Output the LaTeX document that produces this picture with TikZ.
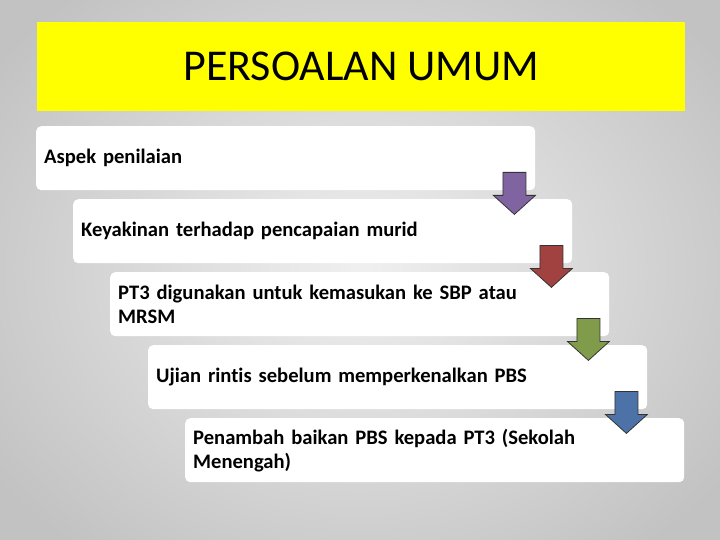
\documentclass[tikz,border=0pt]{standalone}
\usepackage{fontspec}
\setmainfont[Ligatures=NoCommon]{Carlito}
\usetikzlibrary{calc}
\definecolor{titleyellow}{RGB}{255,255,0}
\definecolor{arrpurple}{RGB}{128,100,162}
\definecolor{arrred}{RGB}{162,66,64}
\definecolor{arrgreen}{RGB}{128,156,74}
\definecolor{arrblue}{RGB}{76,114,168}

\begin{document}
\begin{tikzpicture}[x=1pt,y=-1pt]
    % `stepbox' is used for the white boxes of the list.
    % `downarr' is the small arrow at the corner of each box.
    \tikzstyle{stepbox} = [fill=white,rounded corners=5pt,anchor=north west,
      minimum width=499pt,minimum height=64pt,inner xsep=8pt,
      text width=483pt,align=left,font=\fontsize{20.6}{24}\selectfont\bfseries]
    \tikzstyle{titlebox} = [fill=titleyellow,anchor=north west,
      minimum width=648pt,minimum height=89pt,font=\fontsize{44}{50}\selectfont]
    \tikzset{downarr/.pic={
      \path[pic actions,draw=black!80,line width=0.8pt,line join=miter]
        (-11.5,0) -- (11.5,0) -- (11.5,23) -- (21,23) -- (0,42)
        -- (-21,23) -- (-11.5,23) -- cycle;
    }}
    %
    \useasboundingbox (0,0) rectangle (720,540);
    \shade[inner color=gray!12,outer color=gray!48] (-90,-90) rectangle (810,630);
    %
    \node[titlebox] (title) at (37,22) {PERSOALAN UMUM};
    %
    \node[stepbox] (s1) at (36,126) {Aspek penilaian};
    \node[stepbox] (s2) at (73,199) {Keyakinan terhadap pencapaian murid};
    \node[stepbox] (s3) at (110,272) {PT3 digunakan untuk kemasukan ke SBP atau\\MRSM};
    \node[stepbox] (s4) at (148,345) {Ujian rintis sebelum memperkenalkan PBS};
    \node[stepbox] (s5) at (185,418) {Penambah baikan PBS kepada PT3 (Sekolah\\Menengah)};
    %
    % Arrows between the boxes.
    \pic[fill=arrpurple] at ($(s1.south east)+(-21,-18)$) {downarr};
    \pic[fill=arrred] at ($(s2.south east)+(-21,-18)$) {downarr};
    \pic[fill=arrgreen] at ($(s3.south east)+(-21,-18)$) {downarr};
    \pic[fill=arrblue] at ($(s4.south east)+(-21,-18)$) {downarr};
\end{tikzpicture}
\end{document}
